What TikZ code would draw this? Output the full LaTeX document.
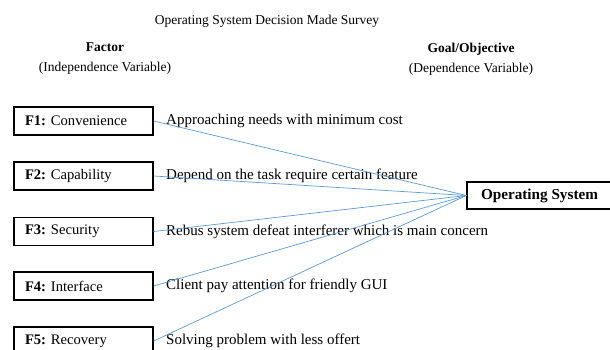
\documentclass[tikz,border=0pt]{standalone}
\usepackage{fontspec}
\setmainfont{Liberation Serif}
\frenchspacing
\definecolor{linkblue}{RGB}{91,155,213}
\begin{document}
\begin{tikzpicture}[x=1pt,y=-1pt,
  fbox/.style={draw=black,line width=1.3pt,minimum width=139pt,minimum height=28pt,text width=117pt,align=left,inner xsep=11pt,inner ysep=0pt,font=\rmfamily\fontsize{14.6}{16}\selectfont},
  desc/.style={anchor=west,inner sep=0pt,font=\rmfamily\fontsize{15}{17}\selectfont},
  head/.style={align=center,inner sep=0pt,font=\rmfamily\fontsize{13.5}{20}\selectfont},
  link/.style={draw=linkblue,line width=0.7pt}]
\useasboundingbox (0,0) rectangle (610,350);
\begin{scope}
\clip (0,0) rectangle (610,350);
\node[head] (title) at (267,21) {Operating System Decision Made Survey};
\node[head] (fac) at (105,59) {\textbf{Factor}\\(Independence Variable)};
\node[head] (goal) at (471,59) {\textbf{Goal/Objective}\\(Dependence Variable)};
\node[fbox] (f1) at (83.5,121) {\textbf{F1:} Convenience};
\node[fbox] (f2) at (83.5,176) {\textbf{F2:} Capability};
\node[fbox] (f3) at (83.5,231.5) {\textbf{F3:} Security};
\node[fbox] (f4) at (83.5,286) {\textbf{F4:} Interface};
\node[fbox] (f5) at (83.5,341) {\textbf{F5:} Recovery};
\node[desc] (d1) at (166,121) {Approaching needs with minimum cost};
\node[desc] (d2) at (166,176) {Depend on the task require certain feature};
\node[desc] (d3) at (166,231.5) {Rebus system defeat interferer which is main concern};
\node[desc] (d4) at (166,286) {Client pay attention for friendly GUI};
\node[desc] (d5) at (166,341) {Solving problem with less offert};
\node[draw=black,line width=1.3pt,minimum width=145pt,minimum height=27pt,inner sep=0pt,font=\rmfamily\fontsize{15.2}{17}\selectfont\bfseries] (os) at (539.5,195.5) {Operating System};
\foreach \f in {f1,f2,f3,f4,f5}{\draw[link] (\f.east) -- (os.west);}
\end{scope}
\end{tikzpicture}
\end{document}
